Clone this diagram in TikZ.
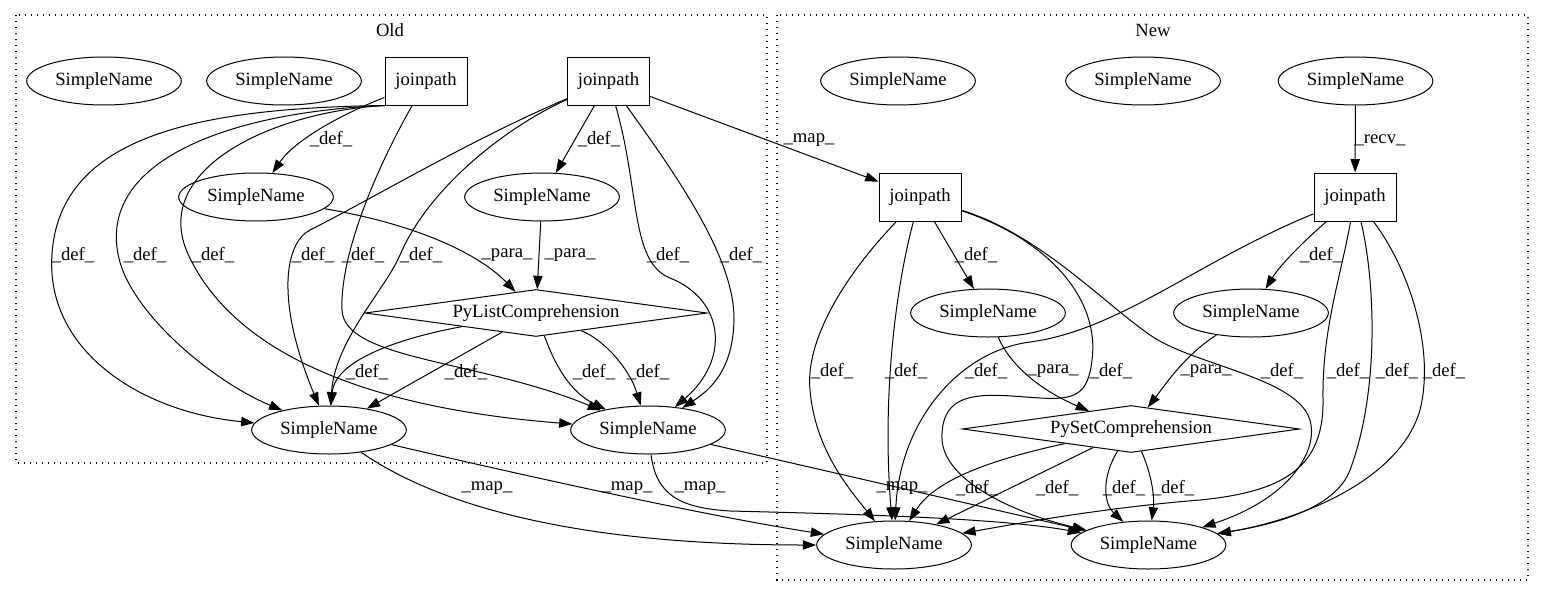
\documentclass[tikz,border=0pt]{standalone}
\usepackage{fontspec}
\setmainfont{Liberation Serif}
\usetikzlibrary{shapes.geometric,arrows.meta}
\begin{document}
\begin{tikzpicture}[x=0.75pt,y=-0.75pt,
  every node/.style={font=\fontsize{14pt}{16pt}\selectfont},
  ell/.style={draw,ellipse,minimum width=116pt,minimum height=36pt,inner sep=0pt,line width=0.75pt},
  box/.style={draw,rectangle,minimum width=61.5pt,minimum height=36pt,inner sep=0pt,line width=0.75pt},
  dia/.style={draw,diamond,aspect=7.2,minimum width=#1,minimum height=35.25pt,inner sep=0pt,line width=0.75pt},
  e/.style={draw,line width=0.75pt,-{Triangle[length=10pt,width=7pt]}},
  lab/.style={inner sep=0pt},
  clus/.style={draw,line width=0.9pt,dash pattern=on 1pt off 3.5pt}
]
\useasboundingbox (0,0) rectangle (1544,596);
% clusters
\draw[clus] (16,15) rectangle (767,463);
\draw[clus] (777,15) rectangle (1528,580);
\node[lab] (old) at (390,30) {Old};
\node[lab] (new) at (1153,30) {New};
% Old nodes
\node[ell] (s1) at (104,81) {SimpleName};
\node[ell] (s2) at (284,81) {SimpleName};
\node[box] (j1) at (426,81) {joinpath};
\node[box] (j2) at (608.5,81) {joinpath};
\node[ell] (s3) at (256,197) {SimpleName};
\node[ell] (s4) at (542,197) {SimpleName};
\node[dia=256.5pt] (pl) at (536,313) {PyListComprehension};
\node[ell] (s5) at (329,430) {SimpleName};
\node[ell] (s6) at (648,430) {SimpleName};
% New nodes
\node[ell] (s7) at (898,81) {SimpleName};
\node[ell] (s8) at (1143,81) {SimpleName};
\node[ell] (s9) at (1355.5,81) {SimpleName};
\node[box] (j3) at (920,197) {joinpath};
\node[box] (j4) at (1355,197) {joinpath};
\node[ell] (s10) at (988,313) {SimpleName};
\node[ell] (s11) at (1251,313) {SimpleName};
\node[dia=252.75pt] (ps) at (1131,429) {PySetComprehension};
\node[ell] (s12) at (894,545) {SimpleName};
\node[ell] (s13) at (1148.5,545) {SimpleName};
% Old edges
\draw[e] (j1) .. controls (340,115) and (295,140) .. (s3);
\draw[e] (j1.south west) .. controls (200,108) and (60,135) .. (52,254) .. controls (45,350) and (140,412) .. (s5);
\draw[e] (j1.south west) .. controls (230,112) and (100,160) .. (118,254) .. controls (128,310) and (210,380) .. (s5);
\draw[e] (j1.south west) .. controls (270,112) and (150,170) .. (188,254) .. controls (225,335) and (330,405) .. (s6);
\draw[e] (j1) .. controls (370,180) and (340,260) .. (342,310) .. controls (344,360) and (480,360) .. (s6);
\draw[e] (j2) .. controls (470,140) and (370,200) .. (310,230) .. controls (285,243) and (275,300) .. (s5);
\draw[e] (j2) .. controls (510,125) and (430,185) .. (400,255) .. controls (385,290) and (335,340) .. (s5);
\draw[e] (j2) -- (s4);
\draw[e] (j2) .. controls (640,190) and (630,262) .. (670,278) .. controls (725,300) and (730,360) .. (s6);
\draw[e] (j2) .. controls (680,180) and (735,260) .. (734,320) .. controls (733,370) and (710,390) .. (s6);
\draw[e] (j2) -- (j3);
\draw[e] (s3) .. controls (420,225) and (480,255) .. (pl);
\draw[e] (s4) -- (pl);
\draw[e] (pl) .. controls (400,338) and (335,360) .. (s5);
\draw[e] (pl) -- (s5);
\draw[e] (pl) .. controls (555,365) and (570,392) .. (s6);
\draw[e] (pl) .. controls (605,340) and (630,370) .. (s6);
\draw[e] (s5) .. controls (430,500) and (560,545) .. (s12);
\draw[e] (s5) .. controls (500,470) and (700,515) .. (s12);
\draw[e] (s6) .. controls (656,495) and (680,508) .. (730,511) .. controls (850,514) and (1000,518) .. (s13);
\draw[e] (s6) -- (s13);
% New edges
\draw[e] (s9) -- (j4);
\draw[e] (j3) -- (s10);
\draw[e] (j3) .. controls (845,275) and (805,340) .. (810,390) .. controls (815,450) and (850,490) .. (s12);
\draw[e] (j3) .. controls (895,290) and (882,400) .. (s12);
\draw[e] (j3) .. controls (1050,240) and (1100,300) .. (1092,360) .. controls (1088,395) and (1075,400) .. (1040,398) .. controls (990,395) and (940,385) .. (942,440) .. controls (945,480) and (1010,512) .. (s13);
\draw[e] (j3) .. controls (1040,235) and (1100,300) .. (1150,335) .. controls (1190,363) and (1280,375) .. (1305,410) .. controls (1325,438) and (1300,495) .. (s13);
\draw[e] (j4) .. controls (1305,240) and (1280,265) .. (s11);
\draw[e] (j4) .. controls (1200,260) and (1120,330) .. (1030,342) .. controls (960,351) and (900,420) .. (s12);
\draw[e] (j4) .. controls (1340,280) and (1322,330) .. (1323,400) .. controls (1324,470) and (1280,492) .. (1200,500) .. controls (1100,508) and (1010,525) .. (s12);
\draw[e] (j4) .. controls (1375,280) and (1380,390) .. (1350,470) .. controls (1335,510) and (1270,525) .. (s13);
\draw[e] (j4) .. controls (1410,270) and (1435,350) .. (1420,410) .. controls (1400,480) and (1300,520) .. (s13);
\draw[e] (s10) .. controls (1010,365) and (1040,390) .. (ps);
\draw[e] (s11) .. controls (1185,355) and (1165,385) .. (ps);
\draw[e] (ps) .. controls (990,460) and (935,480) .. (s12);
\draw[e] (ps) -- (s12);
\draw[e] (ps) .. controls (1100,480) and (1105,505) .. (s13);
\draw[e] (ps) .. controls (1150,470) and (1155,495) .. (s13);
% labels Old
\node[lab] (l1) at (331,139) {\_def\_};
\node[lab] (l2) at (599,139) {\_def\_};
\node[lab] (l3) at (73,255) {\_def\_};
\node[lab] (l4) at (145,255) {\_def\_};
\node[lab] (l5) at (213,255) {\_def\_};
\node[lab] (l6) at (313,255) {\_def\_};
\node[lab] (l7) at (363,255) {\_def\_};
\node[lab] (l8) at (421,255) {\_def\_};
\node[lab] (l9) at (507,255) {\_para\_};
\node[lab] (l10) at (570,255) {\_para\_};
\node[lab] (l11) at (668,255) {\_def\_};
\node[lab] (l12) at (741,255) {\_def\_};
\node[lab] (l13) at (367,372) {\_def\_};
\node[lab] (l14) at (466,372) {\_def\_};
\node[lab] (l15) at (594,372) {\_def\_};
\node[lab] (l16) at (648,372) {\_def\_};
\node[lab] (l17) at (487,488) {\_map\_};
\node[lab] (l18) at (627,488) {\_map\_};
\node[lab] (l19) at (700,488) {\_map\_};
\node[lab] (l20) at (809,140) {\_map\_};
% labels New
\node[lab] (l21) at (1380,140) {\_recv\_};
\node[lab] (l22) at (976,255) {\_def\_};
\node[lab] (l23) at (1321,255) {\_def\_};
\node[lab] (l24) at (832,371) {\_def\_};
\node[lab] (l25) at (906,371) {\_def\_};
\node[lab] (l26) at (986,371) {\_def\_};
\node[lab] (l27) at (1053,371) {\_para\_};
\node[lab] (l28) at (1111,371) {\_def\_};
\node[lab] (l29) at (1206,371) {\_para\_};
\node[lab] (l30) at (1282,371) {\_def\_};
\node[lab] (l31) at (1348,371) {\_def\_};
\node[lab] (l32) at (1397,371) {\_def\_};
\node[lab] (l33) at (1444,371) {\_def\_};
\node[lab] (l34) at (902,488) {\_map\_};
\node[lab] (l35) at (977,488) {\_def\_};
\node[lab] (l36) at (1057,488) {\_def\_};
\node[lab] (l37) at (1124,488) {\_def\_};
\node[lab] (l38) at (1173,488) {\_def\_};
\end{tikzpicture}
\end{document}
